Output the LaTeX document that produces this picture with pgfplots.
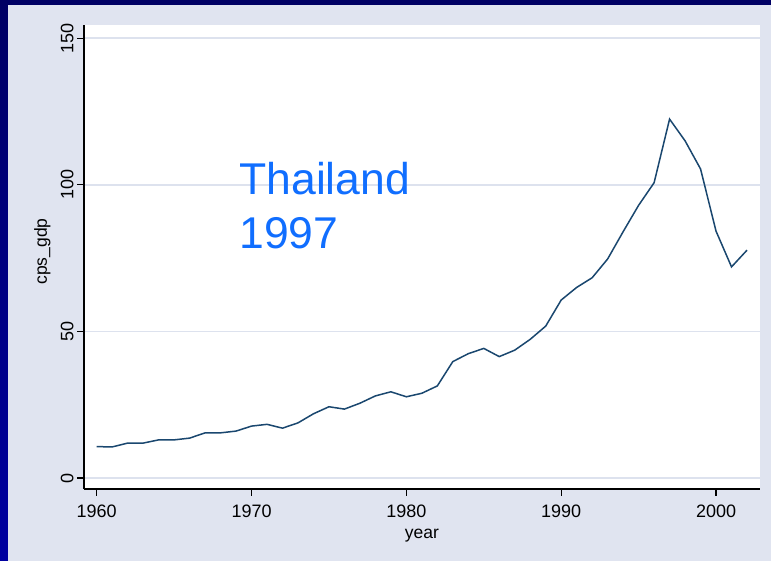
\documentclass[border=0pt]{standalone}
\usepackage{fontspec}
\setmainfont{Liberation Sans}
\usepackage{pgfplots}
\pgfplotsset{compat=1.18}

\definecolor{navyline}{RGB}{26,71,111}
\definecolor{panel}{RGB}{224,228,240}
\definecolor{gridc}{RGB}{221,226,238}
\definecolor{textblue}{RGB}{16,110,255}
\definecolor{frametop}{RGB}{0,0,100}
\definecolor{framebot}{RGB}{0,0,160}

\begin{document}
\begin{tikzpicture}[x=1pt,y=1pt]
% slide frame and graph region
\shade[top color=frametop, bottom color=framebot] (0,0) rectangle (771,561);
\fill[panel] (8,0) rectangle (771,556);
\useasboundingbox (0,0) rectangle (771,561);

\begin{axis}[
  at={(84pt,72pt)}, anchor=south west,
  width=676pt, height=464pt, scale only axis,
  xmin=1959.18, xmax=2002.84, ymin=-3.75, ymax=154.5,
  axis background/.style={fill=white},
  axis lines=left,
  axis line style={black, line width=1.4pt, -},
  xtick={1960,1970,1980,1990,2000},
  ytick={0,50,100,150},
  tick align=outside,
  major tick length=7pt,
  tick style={black, line width=1.3pt},
  ymajorgrids,
  grid style={gridc, line width=1.6pt},
  /pgf/number format/assume math mode=true,
  /pgf/number format/1000 sep={},
  tick label style={font=\fontsize{18}{20}\selectfont},
  xticklabel style={yshift=-5pt},
  yticklabel style={rotate=90, anchor=south},
  xlabel={year}, ylabel={cps\_gdp},
  label style={font=\fontsize{17.5}{20}\selectfont},
  xlabel style={at={(axis description cs:0.5,0)}, anchor=base, yshift=-49.5pt},
  ylabel style={at={(axis description cs:-0.0551,0.512)}, anchor=base, rotate=0},
]
\addplot[navyline, line width=1.5pt] coordinates {
  (1960,10.7) (1961,10.6) (1962,11.9) (1963,11.9) (1964,13.0)
  (1965,13.0) (1966,13.6) (1967,15.4) (1968,15.4) (1969,16.0)
  (1970,17.7) (1971,18.3) (1972,17.0) (1973,18.8) (1974,21.9)
  (1975,24.3) (1976,23.5) (1977,25.5) (1978,28.0) (1979,29.4)
  (1980,27.7) (1981,28.9) (1982,31.4) (1983,39.7) (1984,42.4)
  (1985,44.2) (1986,41.4) (1987,43.6) (1988,47.3) (1989,51.8)
  (1990,60.7) (1991,65.0) (1992,68.3) (1993,74.7) (1994,84.0)
  (1995,93.0) (1996,100.7) (1997,122.4) (1998,115.0) (1999,105.4)
  (2000,84.2) (2001,72.0) (2002,77.7)
};
\node[anchor=base west, inner sep=0pt, text=textblue, font=\fontsize{44.5}{54}\selectfont]
  at (axis cs:1969.2,96.8) {Thailand};
\node[anchor=base west, inner sep=0pt, text=textblue, font=\fontsize{44.5}{54}\selectfont]
  at (axis cs:1969.2,78.3) {1997};
\end{axis}
\end{tikzpicture}
\end{document}
